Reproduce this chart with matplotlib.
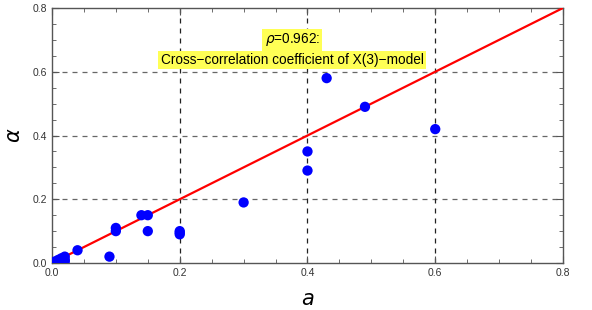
import numpy as np
import matplotlib; matplotlib.use("Agg")
import matplotlib.pyplot as plt
from matplotlib.ticker import MultipleLocator

# ── data ──────────────────────────────────────────────────────────────────────
a_vals = [0.0, 0.005, 0.01, 0.01, 0.015, 0.02, 0.02, 0.02, 0.04, 0.09,
          0.10, 0.10, 0.14, 0.15, 0.15, 0.20, 0.20, 0.20, 0.30, 0.40,
          0.40, 0.43, 0.49, 0.60]
alpha_vals = [0.0, 0.005, 0.0, 0.01, 0.015, 0.01, 0.02, 0.005, 0.04, 0.02,
              0.10, 0.11, 0.15, 0.15, 0.10, 0.10, 0.09, 0.095, 0.19, 0.29,
              0.35, 0.58, 0.49, 0.42]
fit_x = [0.0, 0.8]
fit_y = [0.0, 0.8]
rho = 0.962

plt.rcParams["font.family"] = ["Liberation Sans", "DejaVu Sans"]

fig = plt.figure(figsize=(5.92, 3.10), dpi=100)
ax = fig.add_axes([0.0878, 0.1516, 0.8632, 0.8226])

ax.plot(fit_x, fit_y, color="red", lw=1.6, zorder=3)
ax.scatter(a_vals, alpha_vals, s=55, color="#0000ff", edgecolors="none", zorder=4)

ax.set_xlim(0, 0.8)
ax.set_ylim(0, 0.8)
ax.xaxis.set_major_locator(MultipleLocator(0.2))
ax.yaxis.set_major_locator(MultipleLocator(0.2))
ax.xaxis.set_minor_locator(MultipleLocator(0.05))
ax.yaxis.set_minor_locator(MultipleLocator(0.05))
ax.xaxis.set_major_formatter(plt.FuncFormatter(lambda v, p: f"{v:.1f}"))
ax.yaxis.set_major_formatter(plt.FuncFormatter(lambda v, p: f"{v:.1f}"))
ax.tick_params(which="both", direction="in", top=True, right=True,
               labeltop=False, labelright=False, color="#555555",
               labelcolor="#333333", labelsize=7.5)
ax.tick_params(which="major", length=5, width=0.8)
ax.tick_params(which="minor", length=3, width=0.6)
for s in ax.spines.values():
    s.set_color("#555555"); s.set_linewidth(1.0)

for v in [0.2, 0.4, 0.6]:
    ax.axvline(v, color="#222222", ls=(0, (4, 4)), lw=0.9, zorder=1)
    ax.axhline(v, color="#666666", ls=(0, (4, 4)), lw=0.9, zorder=1)

ax.set_xlabel(r"$a$", fontsize=15, labelpad=9)
ax.set_ylabel(r"$\alpha$", fontsize=15, labelpad=6)

box = dict(facecolor="#ffff55", edgecolor="none", pad=1.8)
ax.text(0.376, 0.70, rf"$\rho$={rho}:", ha="center", va="center",
        fontsize=9.8, bbox=box, zorder=5)
ax.text(0.376, 0.637, "Cross\u2212correlation coefficient of X(3)\u2212model",
        ha="center", va="center", fontsize=9.8, bbox=box, zorder=5)

fig.savefig("out.png", dpi=100)
